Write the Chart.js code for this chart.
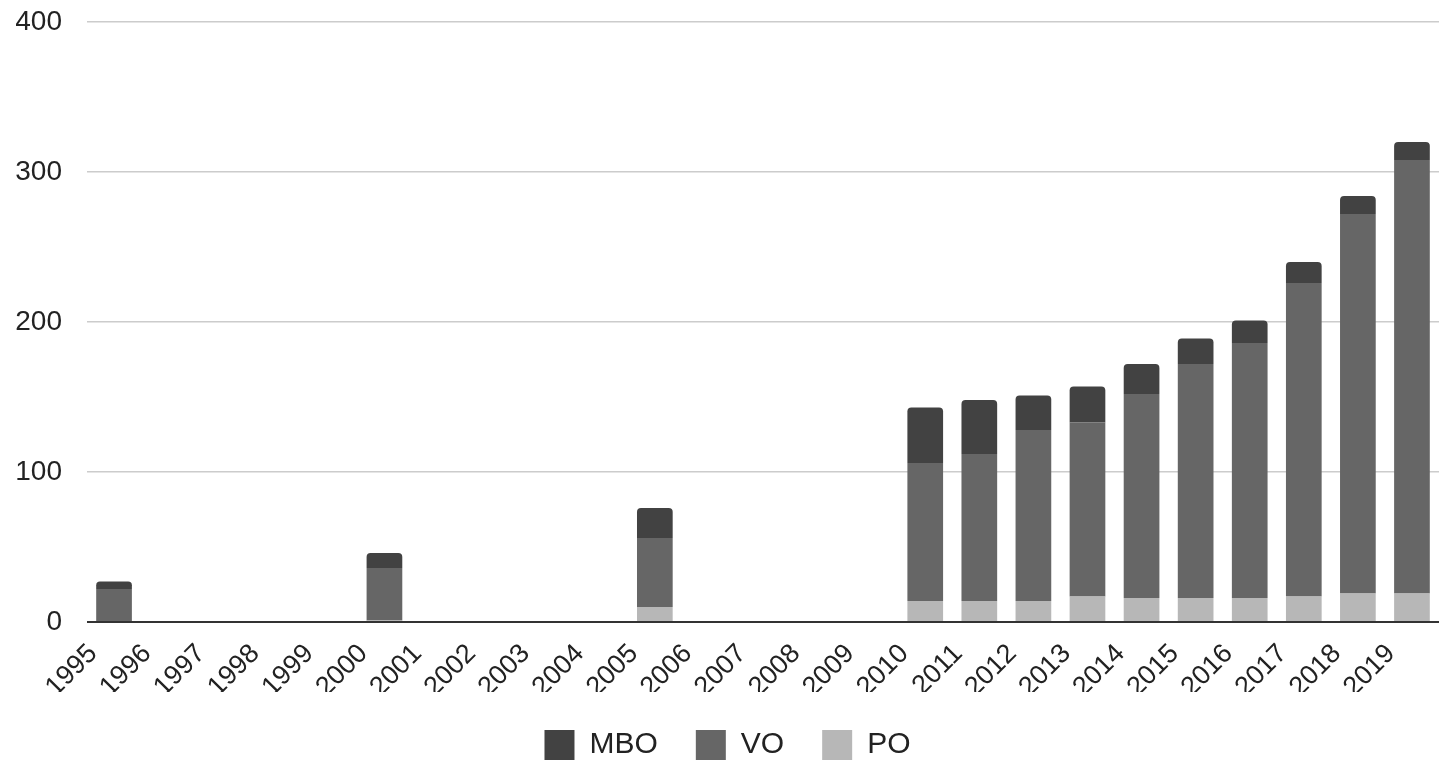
<!DOCTYPE html>
<html>
<head>
<meta charset="utf-8">
<script src="https://cdn.jsdelivr.net/npm/chart.js@4"></script>
<style>
  html, body { margin: 0; padding: 0; background: #fff; }
  #wrap { width: 1451px; height: 760px; position: relative; }
</style>
</head>
<body>
<div id="wrap"><canvas id="myChart"></canvas></div>
<script>
const years = ["1995", "1996", "1997", "1998", "1999", "2000", "2001", "2002", "2003", "2004", "2005", "2006", "2007", "2008", "2009", "2010", "2011", "2012", "2013", "2014", "2015", "2016", "2017", "2018", "2019"];

// stacked bottom to top: PO, VO, MBO
const po  = [0, 0, 0, 0, 0, 1, 0, 0, 0, 0, 10, 0, 0, 0, 0, 14, 14, 14, 17, 16, 16, 16, 17, 19, 19];
const vo  = [22, 0, 0, 0, 0, 35, 0, 0, 0, 0, 46, 0, 0, 0, 0, 92, 98, 114, 116, 136, 156, 170, 209, 253, 289];
const mbo = [5, 0, 0, 0, 0, 10, 0, 0, 0, 0, 20, 0, 0, 0, 0, 37, 36, 23, 24, 20, 17, 15, 14, 12, 12];

const yTicks = [0, 100, 200, 300, 400];

Chart.defaults.font.family = "Arial, 'Liberation Sans', sans-serif";
Chart.defaults.color = "#222";

const legendPad = 38;

// legend: wide gaps between items but only a short box at the bottom
const legendFit = {
    id: 'legendFit',
    beforeLayout(chart) {
        const lg = chart.legend;
        if (lg && !lg._fitPatched) {
            const fit = lg.fit.bind(lg);
            lg.fit = function () { fit(); this.height = legendPad + 30; };
            lg._fitPatched = true;
        }
    }
};

const ctx = document.getElementById('myChart');

new Chart(ctx, {
    type: 'bar',
    data: {
        labels: years,
        datasets: [
            { label: 'PO', data: po, backgroundColor: '#b7b7b7' },
            { label: 'VO', data: vo, backgroundColor: '#666666' },
            { label: 'MBO', data: mbo, backgroundColor: '#424242',
              borderRadius: { topLeft: 4, topRight: 4, bottomLeft: 0, bottomRight: 0 }, borderSkipped: false }
        ]
    },
    plugins: [legendFit],
    options: {
        responsive: true,
        maintainAspectRatio: false,
        animation: false,
        layout: { padding: { left: 16, right: 12, top: 22, bottom: 0 } },
        datasets: { bar: { categoryPercentage: 1, barPercentage: 0.66 } },
        scales: {
            x: {
                stacked: true,
                grid: { display: false, drawTicks: false },
                border: { display: false },
                ticks: { font: { size: 27 }, maxRotation: 45, minRotation: 45, padding: 16, labelOffset: -21, color: '#222' },
                afterFit: (s) => { s.paddingLeft = 0; s.paddingRight = 0; s.height = 70; }
            },
            y: {
                stacked: true,
                min: yTicks[0],
                max: yTicks[yTicks.length - 1],
                afterBuildTicks: (axis) => { axis.ticks = yTicks.map(v => ({ value: v })); },
                afterFit: (s) => { s.paddingTop = 0; s.paddingBottom = 0; s.width = 71; },
                grid: {
                    drawTicks: false,
                    color: (c) => c.tick && c.tick.value === 0 ? '#333333' : '#cccccc',
                    lineWidth: (c) => c.tick && c.tick.value === 0 ? 2 : 1.5
                },
                border: { display: false },
                ticks: { font: { size: 28 }, padding: 25, color: '#222' }
            }
        },
        plugins: {
            legend: {
                position: 'bottom',
                reverse: true,
                labels: { boxWidth: 30, boxHeight: 30, padding: legendPad, font: { size: 30 }, color: '#222' }
            },
            tooltip: { enabled: false }
        }
    }
});
</script>
</body>
</html>
